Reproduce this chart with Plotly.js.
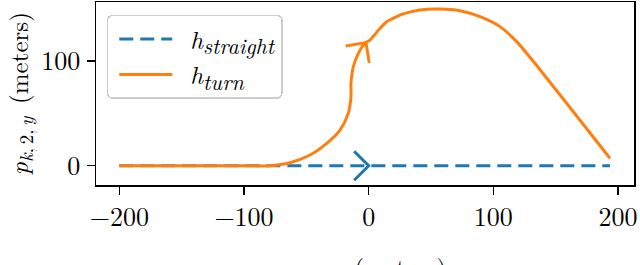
<!DOCTYPE html>
<html>
<head>
<meta charset="utf-8">
<script src="https://cdn.plot.ly/plotly-3.0.1.min.js"></script>
<style>
html,body{margin:0;padding:0;background:#fff;}
#chart{width:640px;height:265px;}
svg text{font-family:'Latin Modern Roman','Liberation Serif','DejaVu Serif',serif !important;}
</style>
</head>
<body>
<div id="chart"></div>
<script>
// ---- data ----
const straightX = [-200, 193.5];
const straightY = [0, 0];

const turnX = [-200, -150, -100, -79.4, -63.1, -47.1, -33.7, -23, -16.4, -14.2, -14.2, -12.3, -8.3, -3, 1, 9.1, 14.4, 17.1, 27.7, 41.1, 57.2, 73.2, 89.3, 105.3, 118.7, 129.4, 193.5];
const turnY = [0, 0, 0, 0, 2.9, 10.2, 21.4, 34.1, 50, 65.9, 78.7, 94.6, 107.3, 116.9, 120, 131.2, 137.5, 139.2, 144.9, 148.7, 149.7, 148, 142.3, 132.8, 118.5, 103.5, 7.1];

// arrow tips (data) along each path, with direction of travel (degrees)
const arrowStraight = {x: 0, y: 0, angle: 0};
const arrowTurn = {x: -2.2, y: 117.5, angle: 54.3};

const xTicks = [-200, -100, 0, 100, 200];
const xTickText = ['\u2212200', '\u2212100', '0', '100', '200'];
const yTicks = [0, 100];
const yTickText = ['0', '100'];

const SUB = (s, px) => '<sub><span style="font-size:' + px + 'px">' + s + '</span></sub>';
const names = ['<i>h</i>' + SUB('<i>straight</i>', 22), '<i>h</i>' + SUB('<i>turn</i>', 22)];
const xTitle = '<i>p</i>' + SUB('<i>k</i>,\u20092,\u2009<i>x</i>', 19) + '\u2002(meters)';
const yTitle = '<i>p</i>' + SUB('<i>k</i>,\u20092,\u2009<i>y</i>', 19) + '\u2002(meters)';

// ---- style ----
const BLUE = '#1f77b4', ORANGE = '#ff7f0e';
const FONT = 'Latin Modern Roman';
const W = 640, H = 265, M = {l: 96, r: 6, t: 2, b: 80};
const xRange = [-218.7, 212.8], yRange = [-18.4, 156.3];

// chevron arrow head as a small line trace (arm length in px, converted through the axis scales)
function chevron(tip, color) {
  const pxX = (W - M.l - M.r) / (xRange[1] - xRange[0]);
  const pxY = (H - M.t - M.b) / (yRange[1] - yRange[0]);
  const L = 20.5, half = Math.PI / 4, a = tip.angle * Math.PI / 180;
  const bx = -Math.cos(a), by = -Math.sin(a);
  const arm = h => [bx * Math.cos(h) - by * Math.sin(h), bx * Math.sin(h) + by * Math.cos(h)];
  const p1 = arm(half), p2 = arm(-half);
  return {
    x: [tip.x + p1[0] * L / pxX, tip.x, tip.x + p2[0] * L / pxX],
    y: [tip.y + p1[1] * L / pxY, tip.y, tip.y + p2[1] * L / pxY],
    type: 'scatter', mode: 'lines', showlegend: false, hoverinfo: 'skip',
    line: {color: color, width: 3}
  };
}

const traces = [
  {x: straightX, y: straightY, type: 'scatter', mode: 'lines', name: names[0],
   line: {color: BLUE, width: 3, dash: '14px,7px'}, legendgroup: 'a'},
  {x: turnX, y: turnY, type: 'scatter', mode: 'lines', name: names[1],
   line: {color: ORANGE, width: 3, shape: 'spline', smoothing: 0.7}, legendgroup: 'b'},
  chevron(arrowStraight, BLUE),
  chevron(arrowTurn, ORANGE)
];

const axisCommon = {
  showline: true, mirror: true, linecolor: '#000', linewidth: 1.5,
  ticks: 'outside', ticklen: 8, tickwidth: 1.5, tickcolor: '#000',
  showgrid: false, zeroline: false,
  tickfont: {family: FONT, size: 26, color: '#000'},
  tickmode: 'array'
};

const layout = {
  width: W, height: H,
  margin: M,
  paper_bgcolor: '#fff', plot_bgcolor: '#fff',
  font: {family: FONT, size: 22, color: '#000'},
  xaxis: Object.assign({}, axisCommon, {
    range: xRange, tickvals: xTicks, ticktext: xTickText,
    title: {text: xTitle, font: {family: FONT, size: 25}}
  }),
  yaxis: Object.assign({}, axisCommon, {
    range: yRange, tickvals: yTicks, ticktext: yTickText,
    ticklabelstandoff: 1,
    title: {text: yTitle, font: {family: FONT, size: 25}}
  }),
  showlegend: true,
  legend: {
    x: 0.02, y: 0.93, xanchor: 'left', yanchor: 'top',
    bgcolor: 'rgba(255,255,255,0.8)', bordercolor: '#cccccc', borderwidth: 1.5,
    font: {family: FONT, size: 25, color: '#000'},
    traceorder: 'grouped', tracegroupgap: 0, itemwidth: 72
  }
};

Plotly.newPlot('chart', traces, layout, {staticPlot: true, displayModeBar: false}).then(gd => {
  // longer legend line samples and rounded legend frame, as in the reference
  gd.querySelectorAll('.legend .legendlines path').forEach(p => p.setAttribute('d', 'M11,0h53'));
  gd.querySelectorAll('.legend rect.bg').forEach(r => { r.setAttribute('rx', 5); r.setAttribute('ry', 5); });
  // x-axis title sits a little lower, clear of the tick labels
  const xt = gd.querySelector('.g-xtitle');
  if (xt) xt.setAttribute('transform', 'translate(0,6)');
});
</script>
</body>
</html>
